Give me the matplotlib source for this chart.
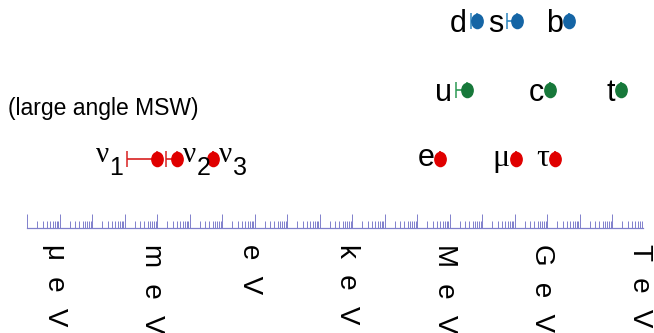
import numpy as np
import matplotlib
matplotlib.use('Agg')
from matplotlib import pyplot as plt
from matplotlib import font_manager
from matplotlib.path import Path
from matplotlib.transforms import Affine2D, offset_copy
from matplotlib.ticker import FixedLocator, NullFormatter

# fermion masses in eV; *_low is the lower end of the allowed range
# (equal to the mass when there is no range to show)
down_names = ['d', 's', 'b']
down_mass = [6.7e6, 1.15e8, 4.5e9]
down_low = [4.4e6, 5.8e7, 4.5e9]

up_names = ['u', 'c', 't']
up_mass = [3.3e6, 1.2e9, 1.8e11]
up_low = [1.6e6, 1.2e9, 1.8e11]

lepton_names = ['e', 'μ', 'τ']
lepton_mass = [5.11e5, 1.057e8, 1.777e9]

nu_subs = ['1', '2', '3']
nu_mass = [1.0e-3, 4.0e-3, 5.2e-2]
nu_low = [1.15e-4, 1.9e-3, 5.2e-2]
nu_side = ['left', 'right', 'right']

units = ['μeV', 'meV', 'eV', 'keV', 'MeV', 'GeV', 'TeV']
unit_vals = [1e-6, 1e-3, 1.0, 1e3, 1e6, 1e9, 1e12]

BLUE, BLUE_BAR = '#1565a5', '#2f86bf'
GREEN, GREEN_BAR = '#17783a', '#2e9a55'
RED, RED_BAR = '#e00000', '#d82020'
AXIS = '#8080cc'

names = {f.name for f in font_manager.fontManager.ttflist}
narrow = 'Liberation Sans Narrow' if 'Liberation Sans Narrow' in names else 'Liberation Sans'
SANS = [narrow, 'DejaVu Sans']
SERIF = ['Liberation Serif', 'DejaVu Serif']

# slightly tall oval for the dots
oval = Path.unit_circle().transformed(Affine2D().scale(0.8, 1.0))
DOT_HW = 5.3  # half width of a dot in pixels

fig = plt.figure(figsize=(6.54, 3.33), dpi=100)
ax = fig.add_axes([27.3 / 654, 105 / 333, 615.9 / 654, 228 / 333])
ax.set_xscale('log')
ax.set_xlim(1e-7, 10 ** 11.95)
ax.set_ylim(0, 3.31)

for s in ['top', 'left', 'right']:
    ax.spines[s].set_visible(False)
ax.spines['bottom'].set_color(AXIS)
ax.spines['bottom'].set_linewidth(0.9)
ax.yaxis.set_visible(False)

decades = 10.0 ** np.arange(-7, 13)
ax.xaxis.set_major_locator(FixedLocator(decades))
ax.xaxis.set_minor_locator(FixedLocator([m * d for d in decades for m in range(2, 10)]))
ax.xaxis.set_major_formatter(NullFormatter())
ax.xaxis.set_minor_formatter(NullFormatter())
ax.tick_params(axis='x', which='major', direction='in', length=10, width=0.7, color=AXIS)
ax.tick_params(axis='x', which='minor', direction='in', length=5, width=0.7, color=AXIS)


def draw_row(mass, low, y, dot_col, bar_col):
    mass = np.asarray(mass)
    low = np.asarray(low)
    ys = np.full(len(mass), y)
    err = [mass - low, np.zeros(len(mass))]
    ax.errorbar(mass, ys, xerr=err, fmt='none', ecolor=bar_col, elinewidth=1.2,
                capsize=5.5, capthick=1.1, zorder=2)
    ax.plot(mass, ys, linestyle='none', marker=oval, markersize=10.2,
            color=dot_col, zorder=3)


def left_labels(labels, mass, low, y, drop, family, size):
    for name, m, lo in zip(labels, mass, low):
        gap = 4 if lo < m else 6
        ax.annotate(name, xy=(lo, y), xytext=(-gap, -drop), textcoords='offset pixels',
                    ha='right', va='baseline', fontsize=size, family=family)


draw_row(down_mass, down_low, 3, BLUE, BLUE_BAR)
left_labels(down_names, down_mass, down_low, 3, 11, SANS, 22)

draw_row(up_mass, up_low, 2, GREEN, GREEN_BAR)
left_labels(up_names, up_mass, up_low, 2, 11, SANS, 22)

draw_row(lepton_mass, lepton_mass, 1, RED, RED_BAR)
left_labels(lepton_names[:1], lepton_mass[:1], lepton_mass[:1], 1, 7,
            ['Liberation Sans', 'DejaVu Sans'], 22)
left_labels(lepton_names[1:], lepton_mass[1:], lepton_mass[1:], 1, 7, SERIF, 23)

draw_row(nu_mass, nu_low, 1, RED, RED_BAR)
for sub, m, lo, side in zip(nu_subs, nu_mass, nu_low, nu_side):
    if side == 'left':
        st = ax.annotate(sub, xy=(lo, 1), xytext=(-4, -16), textcoords='offset pixels',
                         ha='right', va='baseline', fontsize=18, family=SANS)
        ax.annotate('ν', xy=(0, 1), xycoords=(st, 'data'), xytext=(0, -3.3),
                    textcoords='offset pixels', ha='right', va='baseline',
                    fontsize=21, family=SERIF)
    else:
        nt = ax.annotate('ν', xy=(m, 1), xytext=(DOT_HW + 1, -3.3), textcoords='offset pixels',
                         ha='left', va='baseline', fontsize=21, family=SERIF)
        ax.annotate(sub, xy=(1, 1), xycoords=(nt, 'data'), xytext=(0, -16),
                    textcoords='offset pixels', ha='left', va='baseline',
                    fontsize=18, family=SANS)

fig.text(8 / 654, 1 - 115 / 333, '(large angle MSW)', ha='left', va='baseline',
         fontsize=19.5 if narrow != 'Liberation Sans' else 16.5, family=SANS)

# unit names under the axis, written downwards with wide letter spacing
unit_tr = offset_copy(ax.get_xaxis_transform(), fig=fig, x=-5, y=-16, units='dots')
for u, v in zip(units, unit_vals):
    ax.text(v, 0, '\u2002\u200a'.join(u), transform=unit_tr, rotation=-90,
            ha='center', va='top', fontsize=20,
            family=['Liberation Sans', 'DejaVu Sans'], clip_on=False)

fig.savefig('out.png', dpi=100)
